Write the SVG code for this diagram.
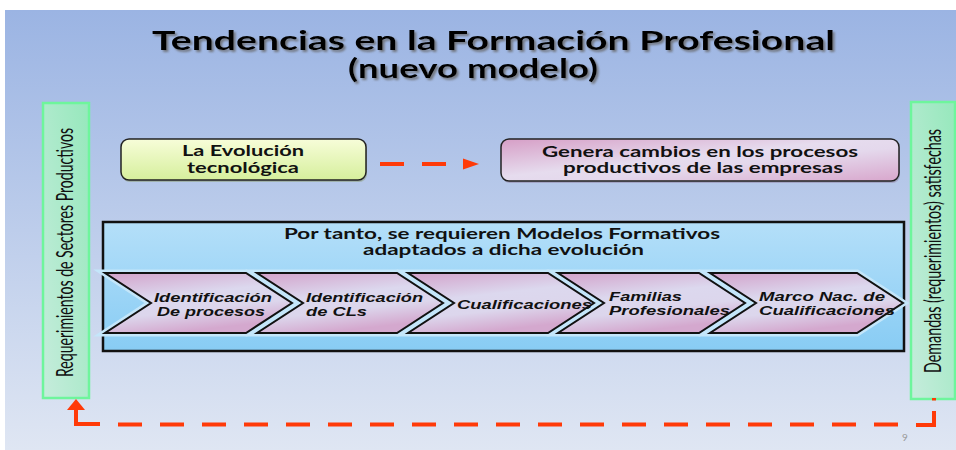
<svg xmlns="http://www.w3.org/2000/svg" width="956" height="450" viewBox="0 0 956 450">
<defs>
<linearGradient id="bg" x1="0" y1="0" x2="0" y2="1">
<stop offset="0" stop-color="#9bb4e3"/>
<stop offset="1" stop-color="#dfe6f3"/>
</linearGradient>
<linearGradient id="green" x1="0" y1="1" x2="1" y2="0">
<stop offset="0" stop-color="#c6ecdc"/>
<stop offset="1" stop-color="#96e8bc"/>
</linearGradient>
<linearGradient id="yel" x1="0" y1="0" x2="0" y2="1">
<stop offset="0" stop-color="#f7fdd9"/>
<stop offset="1" stop-color="#d6ef9c"/>
</linearGradient>
<linearGradient id="pink" x1="0" y1="0" x2="1" y2="1">
<stop offset="0" stop-color="#d69ec6"/>
<stop offset="0.45" stop-color="#e6dcee"/>
<stop offset="0.6" stop-color="#e4d8ec"/>
<stop offset="1" stop-color="#d8a6cc"/>
</linearGradient>
<linearGradient id="chev" x1="0" y1="0" x2="0.35" y2="1">
<stop offset="0" stop-color="#d2a2ca"/>
<stop offset="0.45" stop-color="#dcd8ee"/>
<stop offset="0.7" stop-color="#dcd6ec"/>
<stop offset="1" stop-color="#d4a8ce"/>
</linearGradient>
<linearGradient id="blue" x1="0" y1="0" x2="0" y2="1">
<stop offset="0" stop-color="#b4dff9"/>
<stop offset="1" stop-color="#88ccf4"/>
</linearGradient>
<filter id="shadow" x="-5%" y="-20%" width="110%" height="150%">
<feDropShadow dx="2" dy="2" stdDeviation="0.8" flood-color="#666" flood-opacity="0.8"/>
</filter>
</defs>
<style>
.bar{fill:url(#green);stroke:#6ef59c;stroke-width:2.5}
.vt{font-family:Lato,"Liberation Sans",sans-serif;font-size:16px;fill:#111}
.bt{font-family:Lato,"Liberation Sans",sans-serif;font-weight:bold;font-size:15px;fill:#111;text-anchor:start}
.ct{font-family:"Liberation Sans",Arial,sans-serif;font-weight:bold;font-style:italic;font-size:13px;fill:#111}
.title{font-family:Lato,"Liberation Sans",sans-serif;font-weight:bold;font-size:26px;fill:#000}
.conn{fill:none;stroke:#ff3a08;stroke-width:4;stroke-dasharray:24 18}
.solid{fill:none;stroke:#ff3a08;stroke-width:4;stroke-linejoin:miter}
.ch-u{fill:none;stroke:#c4e6fa;stroke-width:7;stroke-linejoin:miter}
.ch{fill:url(#chev);stroke:#111;stroke-width:2;stroke-linejoin:miter}
.head{fill:#ff3a08}
</style>
<rect x="0" y="0" width="956" height="450" fill="#ffffff"/>
<rect x="5" y="10" width="951" height="440" fill="url(#bg)"/>

<g id="title" filter="url(#shadow)">
<text class="title" x="152" y="50" textLength="683" lengthAdjust="spacingAndGlyphs">Tendencias en la Formación Profesional</text>
<text class="title" x="348" y="78" textLength="250" lengthAdjust="spacingAndGlyphs">(nuevo modelo)</text>
</g>

<g id="left-bar">
<rect class="bar" x="43" y="103" width="46" height="295"/>
<text class="vt" transform="translate(72.5,252.5) rotate(-90) scale(1,1.45)" x="0" y="0" text-anchor="middle" textLength="249" lengthAdjust="spacingAndGlyphs">Requerimientos de Sectores Productivos</text>
</g>

<g id="right-bar">
<rect class="bar" x="911" y="102" width="44" height="297"/>
<text class="vt" transform="translate(940.5,251) rotate(-90) scale(1,1.45)" x="0" y="0" text-anchor="middle" textLength="244" lengthAdjust="spacingAndGlyphs">Demandas (requerimientos) satisfechas</text>
</g>

<g id="evolucion">
<rect x="122" y="141" width="245" height="41" rx="8" fill="#8a9a70" opacity="0.5"/>
<rect x="121" y="139" width="245" height="41" rx="8" fill="url(#yel)" stroke="#222" stroke-width="1.5"/>
<text class="bt" x="182" y="156" textLength="122" lengthAdjust="spacingAndGlyphs">La Evolución</text>
<text class="bt" x="187" y="172.5" textLength="112" lengthAdjust="spacingAndGlyphs">tecnológica</text>
</g>

<g id="genera">
<rect x="502" y="141" width="398" height="42" rx="8" fill="#8a7090" opacity="0.4"/>
<rect x="501" y="139" width="398" height="42" rx="8" fill="url(#pink)" stroke="#222" stroke-width="1.5"/>
<text class="bt" x="542" y="156.5" textLength="316" lengthAdjust="spacingAndGlyphs">Genera cambios en los procesos</text>
<text class="bt" x="563" y="173" textLength="280" lengthAdjust="spacingAndGlyphs">productivos de las empresas</text>
</g>

<g id="modelos">
<rect x="103" y="222" width="801" height="129" fill="url(#blue)" stroke="#111" stroke-width="2.5"/>
<text class="bt" x="284" y="238.5" textLength="436" lengthAdjust="spacingAndGlyphs">Por tanto, se requieren Modelos Formativos</text>
<text class="bt" x="363" y="255" textLength="281" lengthAdjust="spacingAndGlyphs">adaptados a dicha evolución</text>
</g>

<g id="chevrons">
<g id="chev1">
<polygon class="ch-u" points="105,273 246,273 292,303 246,333 105,333 151,303"/>
<polygon class="ch" points="105,273 246,273 292,303 246,333 105,333 151,303"/>
<text class="ct" x="154" y="302" textLength="118" lengthAdjust="spacingAndGlyphs">Identificación</text>
<text class="ct" x="157" y="316" textLength="108" lengthAdjust="spacingAndGlyphs">De procesos</text>
</g>
<g id="chev2">
<polygon class="ch-u" points="257,273 397,273 443,303 397,333 257,333 303,303"/>
<polygon class="ch" points="257,273 397,273 443,303 397,333 257,333 303,303"/>
<text class="ct" x="306" y="302" textLength="117" lengthAdjust="spacingAndGlyphs">Identificación</text>
<text class="ct" x="306" y="316" textLength="61" lengthAdjust="spacingAndGlyphs">de CLs</text>
</g>
<g id="chev3">
<polygon class="ch-u" points="408,273 548,273 594,303 548,333 408,333 454,303"/>
<polygon class="ch" points="408,273 548,273 594,303 548,333 408,333 454,303"/>
<text class="ct" x="457" y="308.5" textLength="135" lengthAdjust="spacingAndGlyphs">Cualificaciones</text>
</g>
<g id="chev4">
<polygon class="ch-u" points="558,273 699,273 745,303 699,333 558,333 604,303"/>
<polygon class="ch" points="558,273 699,273 745,303 699,333 558,333 604,303"/>
<text class="ct" x="609" y="301" textLength="73" lengthAdjust="spacingAndGlyphs">Familias</text>
<text class="ct" x="609" y="315" textLength="121" lengthAdjust="spacingAndGlyphs">Profesionales</text>
</g>
<g id="chev5">
<polygon class="ch-u" points="710,273 857,273 903,303 857,333 710,333 756,303"/>
<polygon class="ch" points="710,273 857,273 903,303 857,333 710,333 756,303"/>
<text class="ct" x="759" y="301" textLength="126" lengthAdjust="spacingAndGlyphs">Marco Nac. de</text>
<text class="ct" x="759" y="315" textLength="136" lengthAdjust="spacingAndGlyphs">Cualificaciones</text>
</g>
</g>

<g id="connectors">
<path class="conn" d="M380,164 H463"/>
<path class="head" d="M463,158.5 L479,164 L463,169.5 z"/>
<path class="solid" d="M934,398 V400.5"/>
<path class="solid" d="M934,411 V425 H916"/>
<path class="conn" d="M898,424.5 H118"/>
<path class="solid" d="M100,424 H76 V409"/>
<path class="head" d="M67,410 L76,399 L85,410 z"/>
</g>

<text x="905" y="441" font-family="Lato,'Liberation Sans',sans-serif" font-size="10" fill="#999" text-anchor="middle">9</text>
</svg>
